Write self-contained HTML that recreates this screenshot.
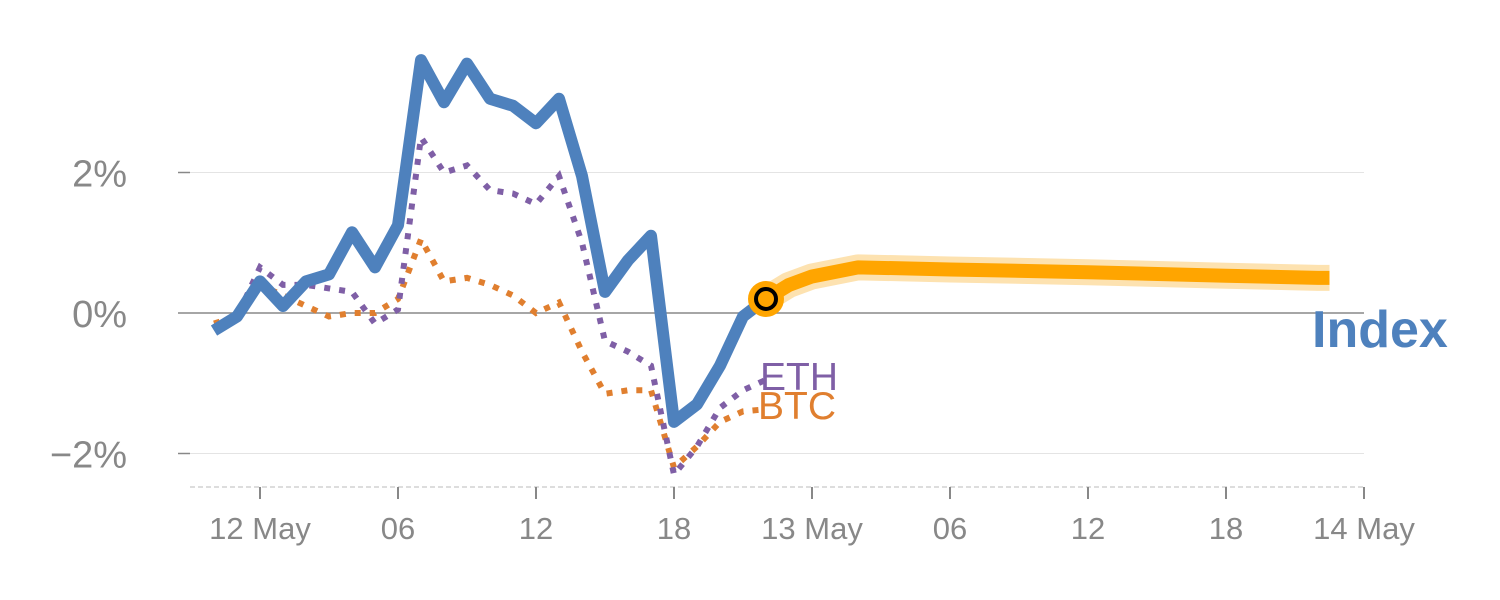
<!DOCTYPE html>
<html><head><meta charset="utf-8"><style>
body{margin:0;background:#fff;width:1500px;height:600px;overflow:hidden}
svg{display:block}
text{font-family:"Liberation Sans",sans-serif}
</style></head><body>
<svg id="chart" width="1500" height="600"></svg>
<script>
// hours relative to 2024-05-12 00:00
const histHours=[-2,-1,0,1,2,3,4,5,6,7,8,9,10,11,12,13,14,15,16,17,18,19,20,21,22];
const indexVals=[-0.25,-0.05,0.45,0.1,0.45,0.55,1.15,0.65,1.25,3.6,3.0,3.55,3.05,2.95,2.7,3.05,1.95,0.3,0.75,1.1,-1.55,-1.3,-0.75,-0.05,0.2];
const ethVals=[-0.2,-0.05,0.65,0.4,0.4,0.35,0.3,-0.15,0.05,2.5,2.0,2.1,1.75,1.7,1.55,1.95,1.0,-0.4,-0.55,-0.75,-2.3,-1.9,-1.35,-1.1,-0.95];
const btcVals=[-0.15,-0.05,0.4,0.25,0.1,-0.05,0.0,0.0,0.2,1.05,0.45,0.5,0.4,0.25,0.0,0.15,-0.55,-1.15,-1.1,-1.1,-2.2,-1.9,-1.55,-1.4,-1.37];
const fcHours=[22,23,24,26,30,36,42,46,46.5];
const fcVals=[0.2,0.4,0.52,0.65,0.62,0.58,0.53,0.5,0.5];
const yTicks=[-2,0,2];
const yTickLabels=["\u22122%","0%","2%"];
const xTicks=[0,6,12,18,24,30,36,42,48];
const xTickLabels=["12 May","06","12","18","13 May","06","12","18","14 May"];

const X=h=>260+h*23, Y=v=>313-v*70.25;
const svg=document.getElementById('chart');
const NS='http://www.w3.org/2000/svg';
function mk(tag,attrs,name,parent){const e=document.createElementNS(NS,tag);for(const k in attrs)e.setAttribute(k,attrs[k]);


(parent||svg).appendChild(e);return e;}
yTicks.forEach((t,i)=>{
 mk('line',{x1:190,x2:1364,y1:Y(t),y2:Y(t),stroke:t===0?'#888':'#e4e4e4','stroke-width':t===0?1.5:1},'gridline');
 mk('line',{x1:178,x2:190,y1:Y(t),y2:Y(t),stroke:'#888','stroke-width':1.5},'y-tick');
 const tx=mk('text',{x:127,y:Y(t)+14,'text-anchor':'end','font-size':38,fill:'#888'},'y-tick-label');tx.textContent=yTickLabels[i];
});
mk('line',{x1:190,x2:1364,y1:487,y2:487,stroke:'#ddd','stroke-width':2,'stroke-dasharray':'5,3'},'x-axis-line');
xTicks.forEach((t,i)=>{
 mk('line',{x1:X(t),x2:X(t),y1:487,y2:499,stroke:'#888','stroke-width':2},'x-tick');
 const tx=mk('text',{x:X(t),y:539,'text-anchor':'middle','font-size':31,fill:'#888'},'x-tick-label');tx.textContent=xTickLabels[i];
});
const pts=(hs,vs)=>hs.map((h,i)=>X(h)+','+Y(vs[i])).join(' ');
mk('polyline',{points:pts(histHours,btcVals),fill:'none',stroke:'#e07f2f','stroke-width':6,'stroke-dasharray':'6,9'},'btc-line');
mk('polyline',{points:pts(histHours,ethVals),fill:'none',stroke:'#7f5fa6','stroke-width':6,'stroke-dasharray':'6,9'},'eth-line');
mk('polyline',{points:pts(histHours,indexVals),fill:'none',stroke:'#4e81bd','stroke-width':12,'stroke-linejoin':'round'},'index-line');
mk('polyline',{points:pts(fcHours,fcVals),fill:'none',stroke:'#fde2b0','stroke-width':26,'stroke-linejoin':'round'},'forecast-band');
mk('polyline',{points:pts(fcHours,fcVals),fill:'none',stroke:'#ffa500','stroke-width':14,'stroke-linejoin':'round'},'forecast-line');
mk('circle',{cx:X(histHours[histHours.length-1]),cy:Y(indexVals[indexVals.length-1]),r:18,fill:'#ffa500'},'current-marker-ring');
mk('circle',{cx:X(histHours[histHours.length-1]),cy:Y(indexVals[indexVals.length-1]),r:10,fill:'#ffa500',stroke:'#000','stroke-width':4},'current-marker');
let t=mk('text',{x:760,y:390,'font-size':39,fill:'#7f5fa6'},'eth-label');t.textContent='ETH';
t=mk('text',{x:758,y:419,'font-size':39,fill:'#e07f2f'},'btc-label');t.textContent='BTC';
t=mk('text',{x:1312,y:347,'font-size':52,'font-weight':'bold',fill:'#4e81bd'},'index-label');t.textContent='Index';
</script>
</body></html>
